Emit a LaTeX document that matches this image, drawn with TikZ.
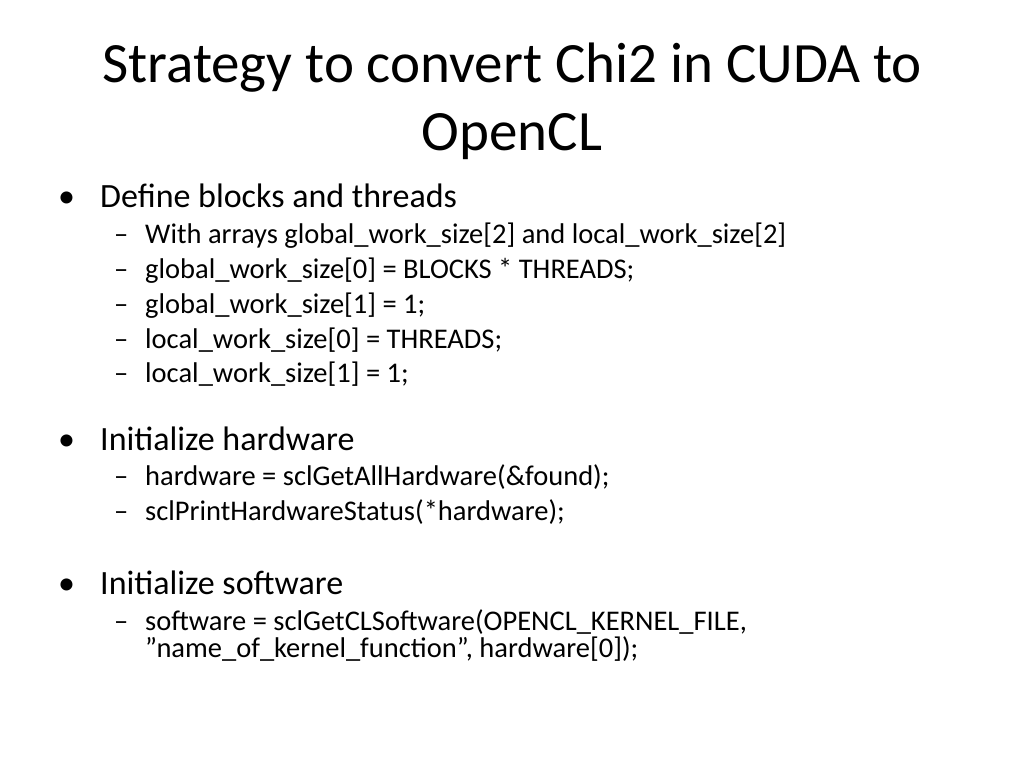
\documentclass[tikz,border=0pt]{standalone}
\usepackage{fontspec}
\setmainfont{Carlito}
\usetikzlibrary{positioning}
\tikzset{
  title/.style={anchor=base, inner sep=0, font=\fontsize{57}{68}\selectfont},
  lvlone/.style={anchor=base west, inner sep=0, font=\fontsize{34}{40}\selectfont},
  lvltwo/.style={anchor=base west, inner sep=0, font=\fontsize{28.5}{34}\selectfont},
}
\begin{document}
\begin{tikzpicture}[x=1pt, y=-1pt]
        \useasboundingbox (0,0) rectangle (1024,768);

        \node[title] (title1) at (512,82) {Strategy to convert Chi2 in CUDA to};
        \node[title] (title2) at (512,150) {OpenCL};

        % blocks and threads
        \node[lvlone] (b1) at (58,207) {•};
        \node[lvlone] (define) at (100,207) {Define blocks and threads};
        \foreach \y/\t [count=\i] in {243/{With arrays global\_work\_size[2] and local\_work\_size[2]},
                278/{global\_work\_size[0] = BLOCKS * THREADS;},
                313/{global\_work\_size[1] = 1;},
                348/{local\_work\_size[0] = THREADS;},
                382/{local\_work\_size[1] = 1;}} {
            \node[lvltwo] (da\i) at (114,\y) {–};
            \node[lvltwo] (sa\i) at (145,\y) {\t};
        }

        % hardware
        \node[lvlone] (b2) at (58,450) {•};
        \node[lvlone] (hw) at (100,450) {Initialize hardware};
        \node[lvltwo] (db1) at (114,485) {–};
        \node[lvltwo] (sb1) at (145,485) {hardware = sclGetAllHardware(\&found);};
        \node[lvltwo] (db2) at (114,520) {–};
        \node[lvltwo] (sb2) at (145,520) {sclPrintHardwareStatus(*hardware);};

        % software
        \node[lvlone] (b3) at (58,594) {•};
        \node[lvlone] (sw) at (100,594) {Initialize software};
        \node[lvltwo] (dc1) at (114,630) {–};
        \node[lvltwo] (sc1) at (145,630) {software = sclGetCLSoftware(OPENCL\_KERNEL\_FILE,};
        \node[lvltwo] (sc2) at (145,657) {”name\_of\_kernel\_function", hardware[0]);};
\end{tikzpicture}
\end{document}
